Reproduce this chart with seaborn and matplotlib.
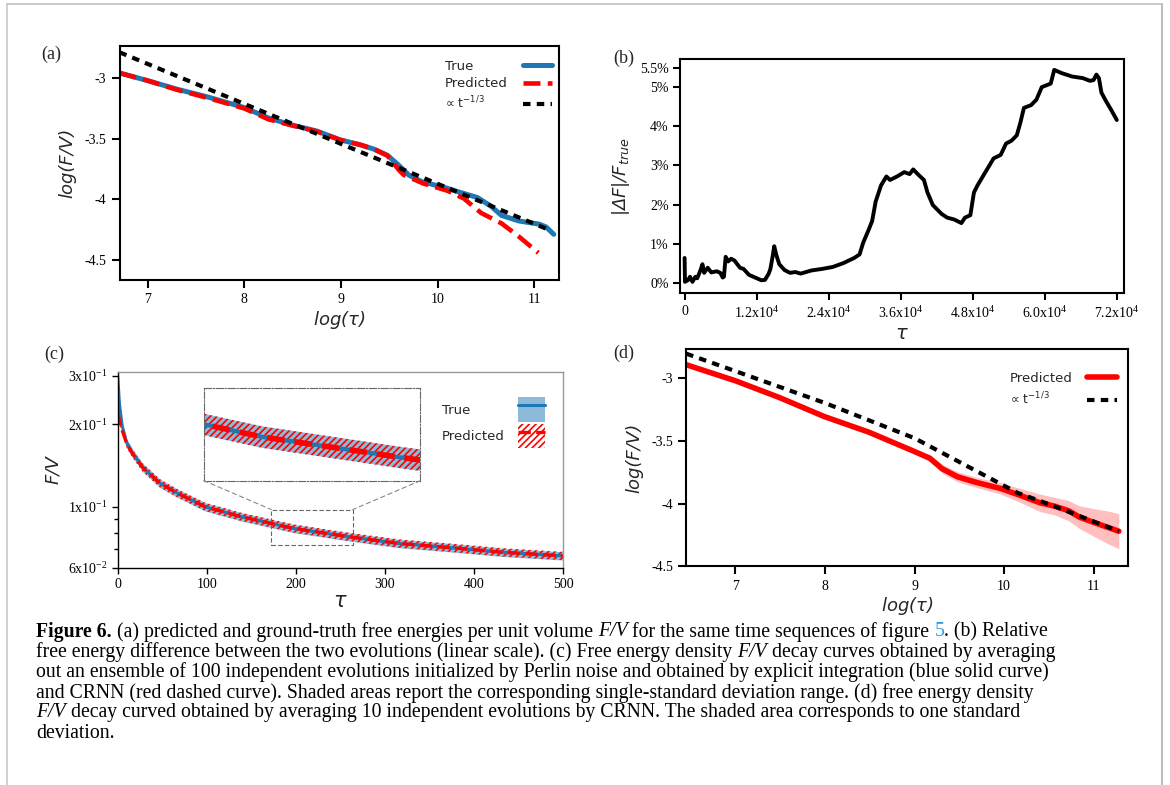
import numpy as np
import matplotlib
matplotlib.use('Agg')
import matplotlib.pyplot as plt
import seaborn as sns
from matplotlib.lines import Line2D
from matplotlib.patches import Patch, Rectangle, ConnectionPatch
from matplotlib.ticker import FuncFormatter, NullFormatter, NullLocator

# ---------------- data ----------------
# (a) log(F/V) vs log(tau), single evolution
a_true_x = [6.71, 7.0, 7.3, 7.63, 8.0, 8.25, 8.49, 8.75, 8.99, 9.2, 9.34, 9.48,
            9.59, 9.70, 9.84, 10.06, 10.23, 10.41, 10.55, 10.66, 10.84, 11.05, 11.12, 11.20]
a_true_y = [-2.957, -3.02, -3.09, -3.157, -3.243, -3.329, -3.386, -3.437, -3.509, -3.551, -3.586, -3.637,
            -3.714, -3.80, -3.857, -3.90, -3.943, -3.986, -4.057, -4.134, -4.18, -4.206, -4.229, -4.29]
a_pred_x = [6.71, 7.0, 7.3, 7.63, 8.0, 8.25, 8.49, 8.75, 8.99, 9.2, 9.34, 9.48,
            9.60, 9.65, 9.85, 10.1, 10.27, 10.45, 10.66, 10.84, 11.04]
a_pred_y = [-2.957, -3.02, -3.095, -3.165, -3.25, -3.34, -3.39, -3.44, -3.51, -3.55, -3.586, -3.64,
            -3.76, -3.80, -3.87, -3.93, -3.994, -4.114, -4.20, -4.309, -4.443]
a_ref_x = [6.71, 11.12]
a_ref_y = [-2.786, -4.243]

# (b) relative free energy difference (%) vs tau
b_tau = [0, 60, 300, 600, 900, 1300, 1800, 2100, 2700, 2975, 3250, 3850, 4450, 5350, 5950,
         6350, 6550, 6840, 7250, 7750, 8330, 9220, 9820, 10710, 11600, 12790, 13390, 13980,
         14280, 14700, 14930, 15290, 15770, 16660, 17550, 18440, 19340, 21120, 22910, 24690,
         26480, 28260, 29150, 29750, 30640, 31240, 31830, 32720, 33620, 34210, 35400, 36590,
         37490, 38080, 38970, 39870, 40460, 41350, 42250, 42840, 43730, 44920, 46110, 46710,
         47600, 48200, 48790, 49680, 50580, 51470, 52660, 53550, 54440, 55340, 55930, 56530,
         57720, 58610, 59500, 60990, 61580, 62770, 64560, 66340, 67530, 68130, 68600, 69020,
         69440, 70210, 71100, 72000]
b_diff = [0.64, 0.03, 0.05, 0.08, 0.16, 0.03, 0.16, 0.12, 0.35, 0.48, 0.26, 0.39, 0.27, 0.30, 0.26,
          0.14, 0.16, 0.67, 0.55, 0.62, 0.57, 0.39, 0.36, 0.21, 0.15, 0.07, 0.08, 0.23,
          0.35, 0.71, 0.94, 0.71, 0.48, 0.33, 0.26, 0.28, 0.24, 0.32, 0.36, 0.41,
          0.51, 0.64, 0.73, 1.03, 1.35, 1.58, 2.08, 2.49, 2.72, 2.63, 2.72, 2.83,
          2.78, 2.90, 2.76, 2.63, 2.31, 1.99, 1.85, 1.76, 1.67, 1.62, 1.53, 1.67,
          1.73, 2.31, 2.49, 2.72, 2.95, 3.18, 3.27, 3.56, 3.63, 3.77, 4.09, 4.47,
          4.54, 4.68, 5.00, 5.09, 5.44, 5.36, 5.27, 5.23, 5.16, 5.18, 5.32, 5.23,
          4.86, 4.64, 4.41, 4.16]

# (c) ensemble-averaged F/V vs tau (log y)
c_tau = [0, 2, 5, 10, 16, 28, 47, 67, 98, 138, 197, 256, 315, 374, 433, 500]
c_true = [0.300, 0.236, 0.197, 0.171, 0.158, 0.139, 0.122, 0.112, 0.100, 0.092,
          0.0834, 0.078, 0.0735, 0.0709, 0.0682, 0.0662]
c_pred = [0.219, 0.205, 0.190, 0.170, 0.157, 0.139, 0.122, 0.112, 0.100, 0.092,
          0.0834, 0.078, 0.0735, 0.0709, 0.0682, 0.0662]
c_true_sd = [0.010, 0.008, 0.007, 0.006, 0.0056, 0.0049, 0.0043, 0.0039, 0.0035, 0.0032,
             0.0029, 0.0027, 0.0026, 0.0025, 0.0024, 0.0023]
c_pred_sd = [0.008, 0.0072, 0.0067, 0.006, 0.0055, 0.0049, 0.0043, 0.0039, 0.0035, 0.0032,
             0.0029, 0.0027, 0.0026, 0.0025, 0.0024, 0.0023]
c_zoom_x = (172.4, 263.8)
c_zoom_y = (0.0724, 0.0976)

# (d) CRNN average of 10 evolutions
d_x = [6.45, 7.0, 7.49, 7.99, 8.49, 8.97, 9.17, 9.31, 9.48, 9.68, 9.96, 10.16,
       10.40, 10.56, 10.72, 10.84, 11.0, 11.16, 11.28]
d_y = [-2.895, -3.023, -3.156, -3.307, -3.432, -3.577, -3.639, -3.724, -3.787, -3.83, -3.88, -3.93,
       -3.994, -4.02, -4.057, -4.108, -4.15, -4.19, -4.22]
d_sd = [0.008, 0.01, 0.01, 0.01, 0.012, 0.015, 0.025, 0.035, 0.04, 0.04, 0.045, 0.055,
        0.07, 0.07, 0.08, 0.09, 0.11, 0.13, 0.14]
d_ref_x = [6.45, 8.0, 9.0, 10.15, 10.5, 11.28]
d_ref_y = [-2.807, -3.2, -3.48, -3.915, -4.005, -4.22]

caption_lines = [
    [("Figure 6.", "b"), (" (a) predicted and ground-truth free energies per unit volume ", "n"),
     ("F/V", "i"), (" for the same time sequences of figure ", "n"), ("5", "link"), (". (b) Relative", "n")],
    [("free energy difference between the two evolutions (linear scale). (c) Free energy density ", "n"),
     ("F/V", "i"), (" decay curves obtained by averaging", "n")],
    [("out an ensemble of 100 independent evolutions initialized by Perlin noise and obtained by "
      "explicit integration (blue solid curve)", "n")],
    [("and CRNN (red dashed curve). Shaded areas report the corresponding single-standard deviation "
      "range. (d) free energy density", "n")],
    [("F/V", "i"), (" decay curved obtained by averaging 10 independent evolutions by CRNN. The shaded "
                    "area corresponds to one standard", "n")],
    [("deviation.", "n")],
]

# ---------------- style ----------------
sns.set_theme(style='ticks')
plt.rcParams.update({
    'font.family': ['DejaVu Sans'],
    'mathtext.fontset': 'custom',
    'mathtext.rm': 'Liberation Serif',
    'mathtext.it': 'Liberation Serif:italic',
    'mathtext.bf': 'Liberation Serif:bold',
    'axes.unicode_minus': False,
    'hatch.linewidth': 1.2,
    'axes.linewidth': 1.5,
    'axes.edgecolor': 'black',
    'xtick.major.width': 1.5, 'ytick.major.width': 1.5,
    'xtick.major.size': 6, 'ytick.major.size': 6,
    'xtick.color': 'black', 'ytick.color': 'black',
})
SERIF = 'Liberation Serif'
BLUE = '#1f77b4'
RED = '#ff0000'
DOT = (0, (1.8, 1.5))
W, H = 1170, 785

fig = plt.figure(figsize=(W / 100, H / 100), dpi=100)
renderer = fig.canvas.get_renderer()


def px_axes(left, top, right, bottom):
    return fig.add_axes([left / W, 1 - bottom / H, (right - left) / W, (bottom - top) / H])


def label_style(ax, size=10):
    ax.tick_params(labelfontfamily=SERIF, labelsize=size, direction='out')


def left_align_labels(leg):
    # labels left, handles right, both columns aligned
    p2px = renderer.points_to_pixels(1.0)
    for col in leg._legend_handle_box.get_children():
        rows = col.get_children()
        widths = [row.get_children()[0].get_bbox(renderer).width for row in rows]
        m = max(widths)
        for row, w in zip(rows, widths):
            row.sep += (m - w) / p2px


def fix_math(leg):
    for t in leg.get_texts():
        t.set_math_fontfamily('dejavusans')


# ---------------- (a) ----------------
ax = px_axes(119.5, 45.5, 558.6, 280.3)
sns.lineplot(x=a_true_x, y=a_true_y, ax=ax, color=BLUE, lw=3.6)
sns.lineplot(x=a_pred_x, y=a_pred_y, ax=ax, color=RED, lw=3.3, linestyle='--')
sns.lineplot(x=a_ref_x, y=a_ref_y, ax=ax, color='black', lw=3, linestyle=DOT)
ax.set_xlim(6.71, 11.25)
ax.set_ylim(-4.67, -2.73)
ax.set_xticks([7, 8, 9, 10, 11])
ax.set_yticks([-3, -3.5, -4, -4.5])
ax.yaxis.set_major_formatter(FuncFormatter(lambda v, p: f'{v:g}'))
label_style(ax)
ax.set_xlabel('log($\\tau$)', fontstyle='italic', fontsize=13, math_fontfamily='dejavusans', labelpad=2)
ax.set_ylabel('log(F/V)', fontstyle='italic', fontsize=13, labelpad=6)
handles = [Line2D([], [], color=BLUE, lw=3.6),
           Line2D([], [], color=RED, lw=3.3, linestyle='--'),
           Line2D([], [], color='black', lw=3, linestyle=DOT)]
leg = ax.legend(handles, ['True', 'Predicted', '\u221d t$^{-1/3}$'], loc='upper right',
                bbox_to_anchor=(0.984, 0.94), frameon=False, markerfirst=False, fontsize=9.5,
                borderpad=0, borderaxespad=0, handlelength=2.2, handletextpad=1.1, labelspacing=0.35)
fix_math(leg)
leg.get_texts()[2].set_fontsize(8.8)
left_align_labels(leg)

# ---------------- (b) ----------------
ax = px_axes(680.4, 59.3, 1124, 293.2)
sns.lineplot(x=b_tau, y=b_diff, ax=ax, color='black', lw=2.8)
ax.set_xlim(-700, 73200)
ax.set_ylim(-0.26, 5.71)
ax.set_xticks([0, 12000, 24000, 36000, 48000, 60000, 72000])
ax.set_yticks([0, 1, 2, 3, 4, 5, 5.5])
ax.xaxis.set_major_formatter(FuncFormatter(lambda v, p: '0' if v == 0 else f'{v / 1e4:.1f}x10$^4$'))
ax.yaxis.set_major_formatter(FuncFormatter(lambda v, p: f'{v:g}%'))
label_style(ax)
ax.tick_params(length=5)
ax.set_xlabel('$\\tau$', fontsize=14, math_fontfamily='dejavusans', labelpad=2)
ax.set_ylabel('|\u0394F|/F$_{true}$', fontstyle='italic', fontsize=13, math_fontfamily='dejavusans',
              labelpad=6)

# ---------------- (c) ----------------
ax = px_axes(117.7, 371.8, 563.3, 567.6)
ax.set_yscale('log')
c_true_arr, c_pred_arr = np.array(c_true), np.array(c_pred)


def draw_c(a, lw_true, lw_pred, dash):
    a.fill_between(c_tau, c_true_arr - np.array(c_true_sd), c_true_arr + np.array(c_true_sd),
                   color=BLUE, alpha=0.5, lw=0)
    a.fill_between(c_tau, c_pred_arr - np.array(c_pred_sd), c_pred_arr + np.array(c_pred_sd),
                   facecolor='none', edgecolor=RED, hatch='/////', lw=0)
    sns.lineplot(x=c_tau, y=c_true, ax=a, color=BLUE, lw=lw_true)
    sns.lineplot(x=c_tau, y=c_pred, ax=a, color=RED, lw=lw_pred, linestyle=dash)


draw_c(ax, 2.2, 2.4, '--')
ax.set_xlim(0, 500)
ax.set_ylim(0.06, 0.31)
ax.set_xticks([0, 100, 200, 300, 400, 500])
ax.set_yticks([0.06, 0.1, 0.2, 0.3])
ax.set_yticks([0.07, 0.08, 0.09], minor=True)


def sci(v, p):
    e = int(np.floor(np.log10(v) + 1e-9))
    return f'{round(v / 10 ** e):d}x10$^{{{e}}}$'


ax.yaxis.set_major_formatter(FuncFormatter(sci))
ax.yaxis.set_minor_formatter(NullFormatter())
label_style(ax)
ax.tick_params(which='major', length=4, width=1)
ax.tick_params(which='minor', length=3, width=1)
for s in ['left', 'bottom']:
    ax.spines[s].set_linewidth(1.0)
for s in ['top', 'right']:
    ax.spines[s].set_linewidth(1.0)
    ax.spines[s].set_color('#999999')
ax.set_xlabel('$\\tau$', fontsize=15, math_fontfamily='dejavusans', labelpad=0)
ax.set_ylabel('F/V', fontstyle='italic', fontsize=13, labelpad=4)

axins = ax.inset_axes([0.193, 0.4443, 0.4865, 0.4714])
axins.set_yscale('log')
draw_c(axins, 3.0, 4.0, (0, (3.2, 1.8)))
axins.set_xlim(*c_zoom_x)
axins.set_ylim(*c_zoom_y)
axins.set_xticks([])
axins.set_yticks([])
axins.yaxis.set_minor_locator(NullLocator())
for s in axins.spines.values():
    s.set_linestyle('-.')
    s.set_color('#666666')
    s.set_linewidth(0.8)
ax.add_patch(Rectangle((c_zoom_x[0], c_zoom_y[0]), c_zoom_x[1] - c_zoom_x[0], c_zoom_y[1] - c_zoom_y[0],
                       fill=False, ec='#666666', lw=0.8, ls=(0, (4, 2))))
for xa, xb in [(0, c_zoom_x[0]), (1, c_zoom_x[1])]:
    fig.add_artist(ConnectionPatch(xyA=(xa, 0), coordsA=axins.transAxes, xyB=(xb, c_zoom_y[1]),
                                   coordsB=ax.transData, color='#888888', lw=0.8, ls=(0, (4, 3))))
handles = [(Patch(facecolor=BLUE, alpha=0.5, lw=0), Line2D([], [], color=BLUE, lw=2.2)),
           (Patch(facecolor='none', edgecolor=RED, hatch='/////', lw=0),
            Line2D([], [], color=RED, lw=2.4, linestyle='--'))]
leg = ax.legend(handles, ['True', 'Predicted'], loc='upper right', bbox_to_anchor=(0.959, 0.87),
                frameon=False, markerfirst=False, fontsize=9.5, borderpad=0, borderaxespad=0,
                handlelength=2.05, handleheight=2.5, handletextpad=1.0, labelspacing=0.12)
left_align_labels(leg)

# ---------------- (d) ----------------
ax = px_axes(686.4, 348.6, 1128.2, 566.4)
d_y_arr, d_sd_arr = np.array(d_y), np.array(d_sd)
ax.fill_between(d_x, d_y_arr - d_sd_arr, d_y_arr + d_sd_arr, color=RED, alpha=0.25, lw=0)
sns.lineplot(x=d_x, y=d_y, ax=ax, color=RED, lw=4)
sns.lineplot(x=d_ref_x, y=d_ref_y, ax=ax, color='black', lw=3, linestyle=DOT)
ax.set_xlim(6.453, 11.385)
ax.set_ylim(-4.5, -2.767)
ax.set_xticks([7, 8, 9, 10, 11])
ax.set_yticks([-3, -3.5, -4, -4.5])
ax.yaxis.set_major_formatter(FuncFormatter(lambda v, p: f'{v:g}'))
label_style(ax)
ax.set_xlabel('log($\\tau$)', fontstyle='italic', fontsize=13, math_fontfamily='dejavusans', labelpad=2)
ax.set_ylabel('log(F/V)', fontstyle='italic', fontsize=13, labelpad=6)
handles = [Line2D([], [], color=RED, lw=4), Line2D([], [], color='black', lw=3, linestyle=DOT)]
leg = ax.legend(handles, ['Predicted', '\u221d t$^{-1/3}$'], loc='upper right',
                bbox_to_anchor=(0.974, 0.893), frameon=False, markerfirst=False, fontsize=9.5,
                borderpad=0, borderaxespad=0, handlelength=2.25, handletextpad=1.1, labelspacing=0.45)
fix_math(leg)
leg.get_texts()[1].set_fontsize(8.8)
left_align_labels(leg)

# ---------------- panel letters ----------------
for lab, x, y in [('(a)', 41.7, 54), ('(b)', 613, 58.6), ('(c)', 44, 354), ('(d)', 613, 353)]:
    fig.text(x / W, 1 - y / H, lab, fontfamily=SERIF, fontsize=13, ha='left', va='center')

# ---------------- caption ----------------
def run_kw(style, size):
    kw = dict(fontfamily=SERIF, fontsize=size)
    if style == 'b':
        kw['fontweight'] = 'bold'
    if style == 'i':
        kw['fontstyle'] = 'italic'
    return kw


def run_width(s, kw):
    t = fig.text(0, 0, '|' + s + '|', **kw)
    w1 = t.get_window_extent(renderer).width
    t.remove()
    t = fig.text(0, 0, '||', **kw)
    w2 = t.get_window_extent(renderer).width
    t.remove()
    return w1 - w2


cap_size = 14.2
y = 632
for line in caption_lines:
    x = 36
    for s, st in line:
        kw = run_kw(st, cap_size)
        fig.text(x / W, 1 - y / H, s, ha='left', va='center',
                 color='#2f9bd8' if st == 'link' else 'black', **kw)
        x += run_width(s, kw)
    y += 20.2

# ---------------- page frame ----------------
fr = dict(transform=fig.transFigure, lw=1.2)
fig.add_artist(Line2D([7 / W, 1162 / W], [1 - 4 / H, 1 - 4 / H], color='#c0c0c0', **fr))
fig.add_artist(Line2D([7 / W, 7 / W], [0, 1 - 4 / H], color='#c8c8c8', **fr))
fig.add_artist(Line2D([1162 / W, 1162 / W], [0, 1 - 4 / H], color='#b0b0b0', **fr))

fig.savefig('out.png', dpi=100)
